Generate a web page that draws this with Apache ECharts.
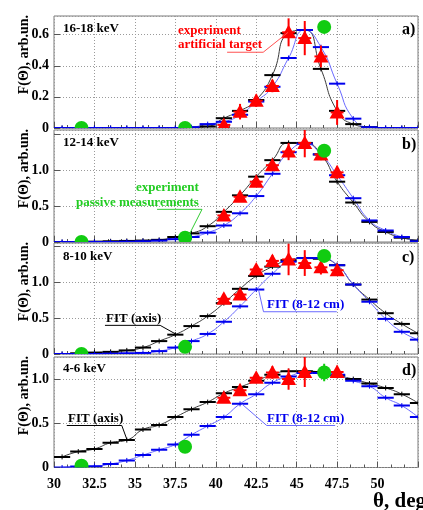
<!DOCTYPE html>
<html><head><meta charset="utf-8">
<script src="https://cdn.jsdelivr.net/npm/echarts/dist/echarts.min.js"></script>
<style>html,body{margin:0;padding:0;background:#fff;overflow:hidden}#c{width:423px;height:510px}</style>
</head><body><div id="c"></div>
<script>
// ---------- data ----------
const thetaBins = [30.5,31.5,32.5,33.5,34.5,35.5,36.5,37.5,38.5,39.5,40.5,41.5,42.5,43.5,44.5,45.5,46.5,47.5,48.5,49.5,50.5,51.5,52.5];
const xTickLabels = ['30','32.5','35','37.5','40','42.5','45','47.5','50'];

const fitAxisA = [0,0,0,0,0,0,0,0,0.003,0.01,0.063,0.11,0.18,0.34,0.61,0.63,0.38,0.11,0.025,0.005,0,0,0];
const fitCmA   = [0,0,0,0,0,0,0,0,0.005,0.025,0.04,0.085,0.17,0.265,0.45,0.63,0.52,0.285,0.06,0.005,0,0,0];
const fitAxisB = [0,0,0.005,0.01,0.015,0.02,0.03,0.07,0.12,0.22,0.42,0.65,0.91,1.14,1.38,1.38,1.22,0.84,0.55,0.28,0.14,0.06,0.02];
const fitCmB   = [0,0,0,0,0.005,0.01,0.02,0.04,0.07,0.13,0.23,0.40,0.64,0.95,1.25,1.37,1.22,0.93,0.61,0.30,0.16,0.07,0.01];
const fitAxisC = [0,0.01,0.02,0.03,0.05,0.09,0.18,0.27,0.39,0.53,0.71,0.91,1.09,1.22,1.31,1.34,1.33,1.24,0.97,0.76,0.57,0.42,0.29];
const fitCmC   = [0,0,0,0.005,0.01,0.015,0.04,0.09,0.18,0.28,0.45,0.665,0.90,1.12,1.29,1.34,1.34,1.24,0.97,0.73,0.49,0.31,0.20];
const fitAxisD = [0.12,0.18,0.21,0.28,0.31,0.43,0.48,0.57,0.66,0.74,0.84,0.91,0.98,1.05,1.09,1.09,1.08,1.04,1.00,0.95,0.90,0.83,0.73];
const fitCmD   = [0,0.01,0.015,0.04,0.08,0.14,0.20,0.26,0.37,0.47,0.57,0.72,0.83,0.96,1.03,1.07,1.07,1.05,0.98,0.92,0.79,0.70,0.57];

const redXA = [40.5,41.5,42.5,43.5,44.5,45.5,46.5,47.5];
const redA = [0.02,0.105,0.175,0.27,0.615,0.578,0.46,0.10];
const redErrA = [0.035,0.05,0.04,0.04,0.09,0.11,0.07,0.08];
const redXB = [40.5,41.5,42.5,43.5,44.5,45.5,46.5,47.5];
const redB = [0.37,0.63,0.84,1.07,1.26,1.38,1.22,0.97];
const redErrB = [0.06,0.06,0.06,0.07,0.12,0.2,0.08,0.09];
const redXC = [40.5,41.5,42.5,43.5,44.5,45.5,46.5,47.5];
const redC = [0.77,0.83,1.18,1.30,1.32,1.27,1.21,1.17];
const redErrC = [0.07,0.06,0.06,0.08,0.22,0.18,0.10,0.07];
const redXD = [40.5,41.5,42.5,43.5,44.5,45.5,47.5];
const redD = [0.79,0.875,1.015,1.075,1.00,1.08,1.08];
const redErrD = [0.06,0.06,0.05,0.07,0.12,0.17,0.07];

const greenX = [31.7,38.1,46.7];
const greenA = [0.0,0.0,0.65];
const greenB = [0.0,0.06,1.27];
const greenC = [0.0,0.10,1.37];
const greenD = [0.02,0.235,1.075];
const greenErrD = [0,0,0.1];

const energyLabels = ['16-18 keV','12-14 keV','8-10 keV','4-6 keV'];
const panelTags = ['a)','b)','c)','d)'];
const yTitle = 'F(\u0398), arb.un.';
const xTitle = '\u03b8, deg';

// ---------- layout / style ----------
const SERIF = '"Liberation Serif","DejaVu Serif",serif';
const binHalfWidth = 0.5;
const panels = [
  {top:16,  height:112,   yMax:0.72, yInt:0.2, axis:fitAxisA, cm:fitCmA, rx:redXA, ry:redA, re:redErrA, gy:greenA, ge:[0,0,0]},
  {top:130, height:112,   yMax:1.56, yInt:0.5, axis:fitAxisB, cm:fitCmB, rx:redXB, ry:redB, re:redErrB, gy:greenB, ge:[0,0,0]},
  {top:243, height:111,   yMax:1.55, yInt:0.5, axis:fitAxisC, cm:fitCmC, rx:redXC, ry:redC, re:redErrC, gy:greenC, ge:[0,0,0]},
  {top:357, height:110.5, yMax:1.25, yInt:0.5, axis:fitAxisD, cm:fitCmD, rx:redXD, ry:redD, re:redErrD, gy:greenD, ge:greenErrD}
];
const RED = '#ff0000', GREEN = '#11cc11', BLUE = '#0000ee', BLUE_CURVE = '#6868ff';

function histRender(color) {
  return function (params, api) {
    const x = api.value(0), y = api.value(1);
    const a = api.coord([x - binHalfWidth, y]);
    const b = api.coord([x + binHalfWidth, y]);
    const c = api.coord([x, y]);
    return {type:'group', children:[
      {type:'line', shape:{x1:a[0], y1:a[1], x2:b[0], y2:b[1]}, style:{stroke:color, lineWidth:2}},
      {type:'line', shape:{x1:c[0], y1:c[1]-2.5, x2:c[0], y2:c[1]+2.5}, style:{stroke:color, lineWidth:1}}
    ]};
  };
}
function redRender(params, api) {
  const x = api.value(0), y = api.value(1), e = api.value(2);
  const c = api.coord([x, y]), lo = api.coord([x, y - e]), hi = api.coord([x, y + e]);
  const l = api.coord([x - 0.4, y]), r = api.coord([x + 0.4, y]);
  return {type:'group', children:[
    {type:'line', shape:{x1:c[0], y1:lo[1], x2:c[0], y2:hi[1]}, style:{stroke:RED, lineWidth:2}},
    {type:'line', shape:{x1:l[0], y1:c[1], x2:r[0], y2:c[1]}, style:{stroke:RED, lineWidth:2}},
    {type:'polygon', shape:{points:[[c[0]-7.5, c[1]+6], [c[0]+7.5, c[1]+6], [c[0], c[1]-7.5]]}, style:{fill:RED}}
  ]};
}
function greenRender(params, api) {
  const x = api.value(0), y = api.value(1), e = api.value(2);
  const c = api.coord([x, y]);
  const ch = [];
  if (e > 0) {
    const lo = api.coord([x, y - e]), hi = api.coord([x, y + e]);
    ch.push({type:'line', shape:{x1:c[0], y1:lo[1], x2:c[0], y2:hi[1]}, style:{stroke:GREEN, lineWidth:2}});
  }
  ch.push({type:'circle', shape:{cx:c[0], cy:c[1], r:7}, style:{fill:GREEN}});
  return {type:'group', children:ch};
}

const grids = [], xAxes = [], yAxes = [], series = [];
panels.forEach((p, i) => {
  grids.push({left:54, right:5, top:p.top, height:p.height, show:true, borderColor:'#7a7a7a', borderWidth:1, containLabel:false});
  const last = i === panels.length - 1;
  xAxes.push({
    type:'value', gridIndex:i, min:30, max:52.5, interval:2.5,
    axisLine:{show:false},
    axisTick:{show:true, inside:true, length:6, lineStyle:{color:'#555'}},
    minorTick:{show:true, splitNumber:3, length:3, lineStyle:{color:'#555'}},
    splitLine:{show:true, lineStyle:{color:'#9a9a9a', type:[1,2], width:1}},
    axisLabel:{show:last, showMaxLabel:false, margin:10, color:'#000', fontFamily:SERIF, fontWeight:'bold', fontSize:14,
      formatter:(v) => { const k = Math.round((v - 30) / 2.5); return xTickLabels[k] !== undefined ? xTickLabels[k] : ''; }}
  });
  const yTop = p.yMax;
  yAxes.push({
    type:'value', gridIndex:i, min:0, max:p.yMax, interval:p.yInt,
    axisLine:{show:false},
    axisTick:{show:true, inside:true, length:6, lineStyle:{color:'#555'}},
    splitLine:{show:true, lineStyle:{color:'#9a9a9a', type:[1,2], width:1}},
    axisLabel:{showMaxLabel:false, margin:5, color:'#000', fontFamily:SERIF, fontWeight:'bold', fontSize:14,
      formatter:(v) => (yTop - v < 0.1 ? '' : (v === 0 ? '0' : v.toFixed(1)))}
  });
  const axisData = thetaBins.map((x, k) => [x, p.axis[k]]);
  const cmData = thetaBins.map((x, k) => [x, p.cm[k]]);
  series.push({type:'line', xAxisIndex:i, yAxisIndex:i, data:axisData, smooth:0.55, showSymbol:false, silent:true,
    lineStyle:{color:'#3a3a3a', width:1}, clip:true, z:2});
  series.push({type:'line', xAxisIndex:i, yAxisIndex:i, data:cmData, smooth:0.55, showSymbol:false, silent:true,
    lineStyle:{color:BLUE_CURVE, width:1}, clip:true, z:2});
  series.push({type:'custom', xAxisIndex:i, yAxisIndex:i, data:axisData, renderItem:histRender('#000'), clip:true, z:3, encode:{x:0, y:1}});
  series.push({type:'custom', xAxisIndex:i, yAxisIndex:i, data:cmData, renderItem:histRender(BLUE), clip:true, z:4, encode:{x:0, y:1}});
  series.push({type:'custom', xAxisIndex:i, yAxisIndex:i, data:p.rx.map((x, k) => [x, p.ry[k], p.re[k]]), renderItem:redRender, clip:true, z:5, encode:{x:0, y:1}});
  series.push({type:'custom', xAxisIndex:i, yAxisIndex:i, data:greenX.map((x, k) => [x, p.gy[k], p.ge[k]]), renderItem:greenRender, clip:true, z:6, encode:{x:0, y:1}});
});

function txt(x, y, text, size, color, extra) {
  return Object.assign({type:'text', x:x, y:y, z:50, silent:true,
    style:{text:text, font:'bold ' + size + 'px ' + SERIF, fill:color, textAlign:'left', align:'left', textVerticalAlign:'middle', verticalAlign:'middle'}}, extra || {});
}
const graphics = [];
const tagY = [30, 145, 258, 371];
const energyY = [29, 143, 257, 369];
panels.forEach((p, i) => {
  graphics.push(txt(63, energyY[i], energyLabels[i], 13, '#000'));
  graphics.push(txt(402, tagY[i], panelTags[i], 16, '#000'));
  graphics.push({type:'text', x:24, y:p.top - 1, rotation:Math.PI / 2, z:50, silent:true,
    style:{text:yTitle, font:'bold 14px ' + SERIF, fill:'#000', textAlign:'right', align:'right', textVerticalAlign:'middle', verticalAlign:'middle'}});
});
graphics.push(txt(178, 31, 'experiment', 13, RED));
graphics.push(txt(178, 45, 'artificial target', 13, RED));
graphics.push(txt(136, 188, 'experiment', 13, '#22cc22'));
graphics.push(txt(76, 203, 'passive measurements', 13, '#22cc22'));
graphics.push(txt(106, 319, 'FIT (axis)', 13, '#000'));
graphics.push(txt(267, 305, 'FIT (8-12 cm)', 13, BLUE));
graphics.push(txt(68, 419, 'FIT (axis)', 13, '#000'));
graphics.push(txt(267, 419, 'FIT (8-12 cm)', 13, BLUE));
graphics.push(txt(373, 502, xTitle, 21, '#000'));

// leader lines, defined in data coordinates of each panel
const leaders = [
  {grid:0, color:'#ff5050', pts:[[40.70,0.487],[42.93,0.487],[44.47,0.615]]},
  {grid:1, color:'#33cc33', pts:[[36.37,0.455],[39.15,0.455],[38.35,0.10]]},
  {grid:2, color:'#000000', pts:[[33.15,0.40],[36.56,0.40],[37.59,0.27]]},
  {grid:2, color:'#6a6aff', pts:[[42.64,0.90],[42.95,0.59],[47.48,0.59]]},
  {grid:3, color:'#000000', pts:[[30.79,0.475],[34.19,0.475],[34.5,0.32]]},
  {grid:3, color:'#6a6aff', pts:[[41.6,0.72],[43.15,0.475],[47.38,0.475]]}
];

const chart = echarts.init(document.getElementById('c'), null, {renderer:'canvas'});
chart.setOption({animation:false, backgroundColor:'#fff', grid:grids, xAxis:xAxes, yAxis:yAxes, series:series, graphic:graphics});
const leaderGraphics = leaders.map((ld, k) => ({
  type:'polyline', id:'leader' + k, z:40, silent:true,
  shape:{points: ld.pts.map(pt => chart.convertToPixel({gridIndex: ld.grid}, pt))},
  style:{stroke: ld.color, lineWidth:1, fill:null}
}));
chart.setOption({graphic: graphics.concat(leaderGraphics)});
</script></body></html>
